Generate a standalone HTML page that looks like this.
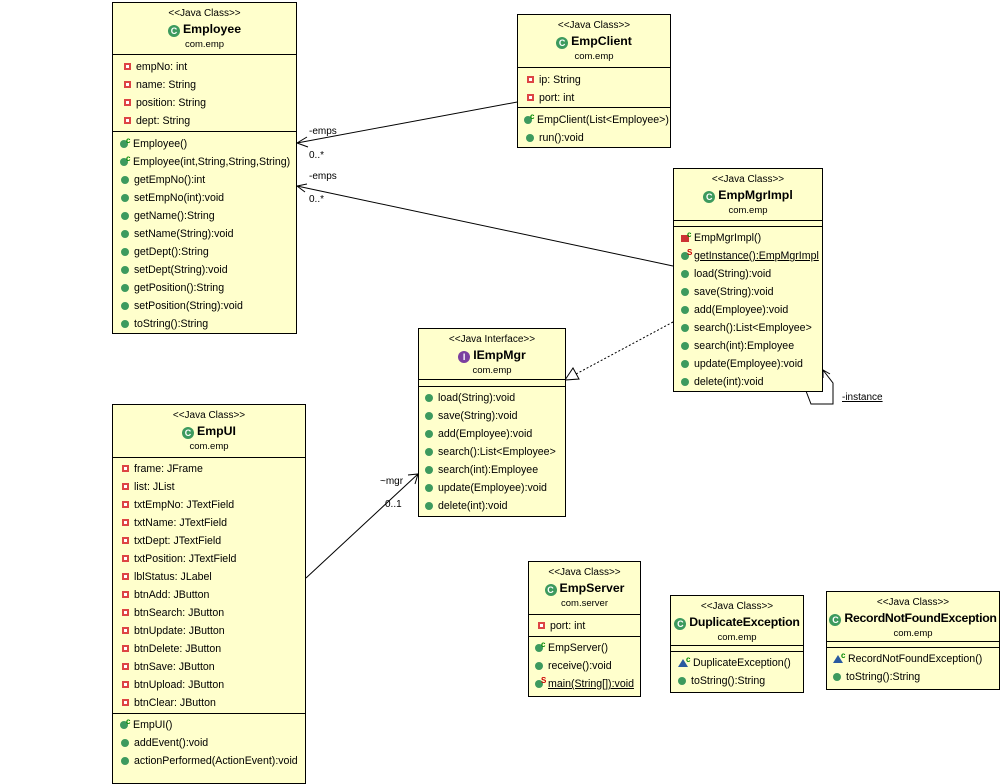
<!DOCTYPE html>
<html><head><meta charset="utf-8"><style>
body{margin:0;width:1008px;height:772px;background:#fff;position:relative;overflow:hidden;font-family:"Liberation Sans",Arial,sans-serif;font-size:10.6px;color:#000}
.c{position:absolute;background:#ffffcc;border:1px solid #000;box-sizing:border-box;overflow:hidden}
.h{text-align:center;border-bottom:1px solid #000;box-sizing:border-box}
.st{font-size:10px;padding-top:4px;height:13px;line-height:13px}
.nm{font-weight:bold;font-size:12.3px;height:18px;line-height:18px;white-space:nowrap}
.pk{font-size:9.5px;height:14px;line-height:14px}
.s{border-bottom:1px solid #000;box-sizing:border-box;padding-top:3px}
.s:last-child{border-bottom:none}
.r{height:18px;line-height:18px;padding-left:8px;white-space:nowrap;position:relative}
.r i{display:inline-block;width:8px;height:8px;border-radius:50%;background:#3d9a5e;margin-right:5px;vertical-align:-1px;position:relative}
.r i.p{border-radius:0;width:3px;height:3px;background:#fff;border:2px solid #d44;margin-left:1px;margin-right:5px;vertical-align:0}
.r i.k{border-radius:0;background:#c33;width:8px;height:7px}
.r i.t{border-radius:0;background:none;width:0;height:0;border-left:5px solid transparent;border-right:5px solid transparent;border-bottom:8px solid #2a5aa0}
.r sup{position:absolute;font-size:8px;font-weight:bold;color:#080;top:-3px;margin-left:-7px}
.r sup.s2{color:#c00}
.u{text-decoration:underline}
.ci{display:inline-block;width:12px;height:12px;border-radius:50%;background:#3d9a5e;color:#fff;font-size:9px;line-height:12px;text-align:center;vertical-align:-1px;margin-right:3px}
.ci.in{background:#7b3fa0}
.l{position:absolute;font-size:10px}
</style></head><body>
<svg width="1008" height="772" style="position:absolute;left:0;top:0">
<g stroke="#000" fill="none" stroke-width="1">
<line x1="528" y1="100" x2="297" y2="143"/><polyline points="307,137 297,143 308,147"/>
<line x1="673" y1="266" x2="297" y2="186"/><polyline points="307,184 297,186 305,192"/>
<line x1="673" y1="322" x2="576" y2="374" stroke-dasharray="2,2"/><polygon points="565,380 573,368 579,379" fill="#fff"/>
<line x1="306" y1="578" x2="418" y2="474"/><polyline points="408,475 418,474 415,484"/>
<polyline points="806,391 811,404 833,404 833,383 823,370"/><polyline points="823,378 823,370 830,374"/>
</g></svg>
<div class="l" style="left:309px;top:126px">-emps</div>
<div class="l" style="left:309px;top:150px">0..*</div>
<div class="l" style="left:309px;top:171px">-emps</div>
<div class="l" style="left:309px;top:194px">0..*</div>
<div class="l" style="left:380px;top:476px">~mgr</div>
<div class="l" style="left:385px;top:499px">0..1</div>
<div class="l u" style="left:842px;top:392px">-instance</div>

<div class="c" style="left:112px;top:2px;width:185px;height:332px">
<div class="h" style="height:52px"><div class="st">&lt;&lt;Java Class&gt;&gt;</div><div class="nm"><span class="ci">C</span>Employee</div><div class="pk">com.emp</div></div>
<div class="s" style="height:77px"><div class="r" style="padding-left:10px"><i class="p"></i>empNo: int</div><div class="r" style="padding-left:10px"><i class="p"></i>name: String</div><div class="r" style="padding-left:10px"><i class="p"></i>position: String</div><div class="r" style="padding-left:10px"><i class="p"></i>dept: String</div></div>
<div class="s" style="padding-top:3px"><div class="r" style="padding-left:7px"><i></i><sup>c</sup>Employee()</div><div class="r" style="padding-left:7px"><i></i><sup>c</sup>Employee(int,String,String,String)</div><div class="r"><i></i>getEmpNo():int</div><div class="r"><i></i>setEmpNo(int):void</div><div class="r"><i></i>getName():String</div><div class="r"><i></i>setName(String):void</div><div class="r"><i></i>getDept():String</div><div class="r"><i></i>setDept(String):void</div><div class="r"><i></i>getPosition():String</div><div class="r"><i></i>setPosition(String):void</div><div class="r"><i></i>toString():String</div></div>
</div>

<div class="c" style="left:517px;top:14px;width:154px;height:134px">
<div class="h" style="height:53px"><div class="st">&lt;&lt;Java Class&gt;&gt;</div><div class="nm"><span class="ci">C</span>EmpClient</div><div class="pk">com.emp</div></div>
<div class="s" style="height:40px"><div class="r" style="padding-left:8px"><i class="p"></i>ip: String</div><div class="r" style="padding-left:8px"><i class="p"></i>port: int</div></div>
<div class="s"><div class="r" style="padding-left:6px"><i></i><sup>c</sup>EmpClient(List&lt;Employee&gt;)</div><div class="r" style="padding-left:8px"><i></i>run():void</div></div>
</div>

<div class="c" style="left:673px;top:168px;width:150px;height:224px">
<div class="h" style="height:52px"><div class="st">&lt;&lt;Java Class&gt;&gt;</div><div class="nm"><span class="ci">C</span>EmpMgrImpl</div><div class="pk">com.emp</div></div>
<div class="s" style="height:6px;padding:0"></div>
<div class="s" style="padding-top:2px"><div class="r" style="padding-left:7px"><i class="k"></i><sup>c</sup>EmpMgrImpl()</div><div class="r" style="padding-left:7px"><i></i><sup class="s2">S</sup><span class="u">getInstance():EmpMgrImpl</span></div><div class="r" style="padding-left:7px"><i></i>load(String):void</div><div class="r" style="padding-left:7px"><i></i>save(String):void</div><div class="r" style="padding-left:7px"><i></i>add(Employee):void</div><div class="r" style="padding-left:7px"><i></i>search():List&lt;Employee&gt;</div><div class="r" style="padding-left:7px"><i></i>search(int):Employee</div><div class="r" style="padding-left:7px"><i></i>update(Employee):void</div><div class="r" style="padding-left:7px"><i></i>delete(int):void</div></div>
</div>

<div class="c" style="left:418px;top:328px;width:148px;height:189px">
<div class="h" style="height:51px"><div class="st">&lt;&lt;Java Interface&gt;&gt;</div><div class="nm"><span class="ci in">I</span>IEmpMgr</div><div class="pk">com.emp</div></div>
<div class="s" style="height:7px;padding:0"></div>
<div class="s" style="padding-top:2px"><div class="r" style="padding-left:6px"><i></i>load(String):void</div><div class="r" style="padding-left:6px"><i></i>save(String):void</div><div class="r" style="padding-left:6px"><i></i>add(Employee):void</div><div class="r" style="padding-left:6px"><i></i>search():List&lt;Employee&gt;</div><div class="r" style="padding-left:6px"><i></i>search(int):Employee</div><div class="r" style="padding-left:6px"><i></i>update(Employee):void</div><div class="r" style="padding-left:6px"><i></i>delete(int):void</div></div>
</div>

<div class="c" style="left:112px;top:404px;width:194px;height:380px">
<div class="h" style="height:53px"><div class="st">&lt;&lt;Java Class&gt;&gt;</div><div class="nm"><span class="ci">C</span>EmpUI</div><div class="pk">com.emp</div></div>
<div class="s" style="height:256px;padding-top:2px"><div class="r"><i class="p"></i>frame: JFrame</div><div class="r"><i class="p"></i>list: JList</div><div class="r"><i class="p"></i>txtEmpNo: JTextField</div><div class="r"><i class="p"></i>txtName: JTextField</div><div class="r"><i class="p"></i>txtDept: JTextField</div><div class="r"><i class="p"></i>txtPosition: JTextField</div><div class="r"><i class="p"></i>lblStatus: JLabel</div><div class="r"><i class="p"></i>btnAdd: JButton</div><div class="r"><i class="p"></i>btnSearch: JButton</div><div class="r"><i class="p"></i>btnUpdate: JButton</div><div class="r"><i class="p"></i>btnDelete: JButton</div><div class="r"><i class="p"></i>btnSave: JButton</div><div class="r"><i class="p"></i>btnUpload: JButton</div><div class="r"><i class="p"></i>btnClear: JButton</div></div>
<div class="s" style="padding-top:2px"><div class="r" style="padding-left:7px"><i></i><sup>c</sup>EmpUI()</div><div class="r"><i></i>addEvent():void</div><div class="r"><i></i>actionPerformed(ActionEvent):void</div></div>
</div>

<div class="c" style="left:528px;top:561px;width:113px;height:136px">
<div class="h" style="height:53px"><div class="st">&lt;&lt;Java Class&gt;&gt;</div><div class="nm"><span class="ci">C</span>EmpServer</div><div class="pk">com.server</div></div>
<div class="s" style="height:22px;padding-top:2px"><div class="r" style="padding-left:8px"><i class="p"></i>port: int</div></div>
<div class="s" style="padding-top:2px"><div class="r" style="padding-left:6px"><i></i><sup>c</sup>EmpServer()</div><div class="r" style="padding-left:6px"><i></i>receive():void</div><div class="r" style="padding-left:6px"><i></i><sup class="s2">S</sup><span class="u">main(String[]):void</span></div></div>
</div>

<div class="c" style="left:670px;top:595px;width:134px;height:98px">
<div class="h" style="height:50px"><div class="st">&lt;&lt;Java Class&gt;&gt;</div><div class="nm" style="letter-spacing:-0.2px"><span class="ci">C</span>DuplicateException</div><div class="pk">com.emp</div></div>
<div class="s" style="height:6px;padding:0"></div>
<div class="s" style="padding-top:2px"><div class="r" style="padding-left:7px"><i class="t"></i><sup>c</sup>DuplicateException()</div><div class="r" style="padding-left:7px"><i></i>toString():String</div></div>
</div>

<div class="c" style="left:826px;top:591px;width:174px;height:99px">
<div class="h" style="height:50px"><div class="st">&lt;&lt;Java Class&gt;&gt;</div><div class="nm" style="letter-spacing:-0.3px"><span class="ci">C</span>RecordNotFoundException</div><div class="pk">com.emp</div></div>
<div class="s" style="height:6px;padding:0"></div>
<div class="s" style="padding-top:2px"><div class="r" style="padding-left:6px"><i class="t"></i><sup>c</sup>RecordNotFoundException()</div><div class="r" style="padding-left:6px"><i></i>toString():String</div></div>
</div>
</body></html>
